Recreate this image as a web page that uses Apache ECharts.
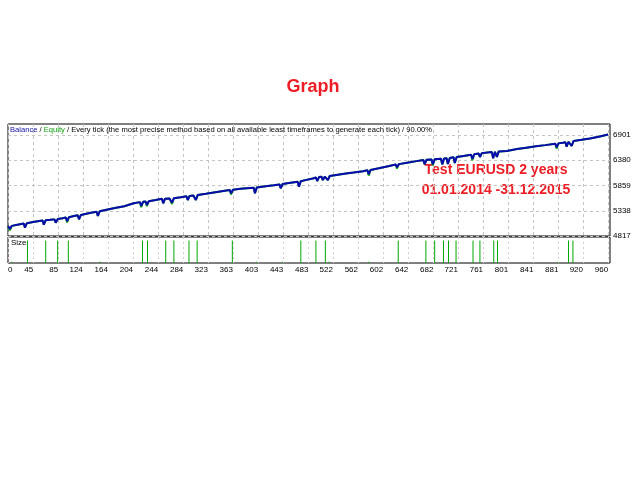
<!DOCTYPE html>
<html><head><meta charset="utf-8">
<script src="https://cdn.jsdelivr.net/npm/echarts@6/dist/echarts.min.js"></script>
<style>html,body{margin:0;padding:0;background:#fff}#c{width:640px;height:480px}</style>
</head><body><div id="c"></div>
<script>
// ---- data ----
const xTickLabels = [0,45,85,124,164,204,244,284,323,363,403,443,483,522,562,602,642,682,721,761,801,841,881,920,960];
const yTickLabels = [4817,5338,5859,6380,6901];
const xMin = 5, xMax = 963;
const yMin = 4817, yMax = 7128;

// balance curve: [trade #, balance]
const balance = [
[5,5023],[6,5025],[8,4961],[11,5026],
[20,5050],[30,5075],[32,4988],[35,5082],
[45,5105],[60,5138],[62,5050],[65,5144],
[72,5150],[79,5160],[81,5091],[84,5166],
[92,5185],[97,5200],[99,5120],[102,5206],
[110,5228],[116,5243],[118,5162],[121,5252],
[135,5290],[146,5316],[148,5230],[151,5326],
[160,5355],[175,5395],[190,5430],[205,5492],[215,5516],[217,5436],[220,5522],[224,5528],[226,5457],[229,5534],
[240,5560],[250,5585],[252,5492],[255,5588],
[262,5592],[264,5594],[266,5504],[269,5597],
[280,5615],[289,5638],[291,5560],[294,5645],
[300,5652],[302,5656],[304,5560],[307,5665],
[320,5690],[335,5720],[350,5750],[358,5764],[360,5698],[363,5772],
[375,5790],[385,5802],[396,5814],[398,5698],[401,5820],
[415,5845],[428,5866],[437,5882],[439,5801],[442,5890],
[452,5910],[466,5938],[468,5834],[471,5948],
[480,5975],[490,6005],[495,6024],[497,5952],[500,6032],[504,6038],[506,5972],[509,6042],[512,6046],[514,5972],[517,6055],
[525,6072],[540,6100],[555,6125],[570,6155],[577,6172],[579,6090],[582,6181],
[595,6215],[610,6258],[622,6292],[624,6234],[627,6300],
[640,6330],[655,6362],[666,6386],[668,6296],[671,6390],[679,6396],[681,6296],[684,6402],[694,6412],[696,6296],[699,6416],[703,6420],[705,6302],[708,6426],[714,6441],[716,6323],[719,6447],
[730,6470],[742,6494],[744,6406],[747,6503],[754,6518],[756,6447],[759,6527],
[768,6540],[775,6548],[777,6420],[780,6555],[781,6557],[783,6447],[786,6562],
[799,6571],[815,6610],[830,6640],[845,6668],[860,6692],[876,6720],[878,6647],[881,6728],
[888,6742],[892,6752],[894,6659],[897,6762],[900,6768],[902,6674],[905,6779],
[918,6803],[931,6828],[945,6865],[960,6911]
];
// equity lows that fall below the balance at some drawdowns: [trade #, equity]
const equityLows = [[8,4935],[99,5095],[217,5410],[226,5432],[266,5478],[360,5672],[579,6064],[624,6208],[681,6270],[744,6380],[878,6621]];
// position sizes: [trade #, lots]
const sizeBars = [
[11,0.01],[36,0.2],[65,0.2],[84,0.2],[101,0.2],[151,0.01],[219,0.2],[227,0.2],[256,0.2],[269,0.2],[293,0.2],[306,0.2],[362,0.2],
[401,0.01],[442,0.01],[471,0.2],[495,0.2],[510,0.2],[516,0.01],[579,0.01],[626,0.2],[670,0.2],[684,0.2],[698,0.2],[706,0.2],[718,0.2],
[745,0.2],[756,0.2],[778,0.2],[784,0.2],[880,0.01],[897,0.2],[904,0.2]
];
const headerText = 'Every tick (the most precise method based on all available least timeframes to generate each tick) / 90.00%';

// ---- build ----
const lowMap = new Map(equityLows.map(d => [d[0], d[1]]));
const equity = balance.map(d => [d[0], lowMap.has(d[0]) ? lowMap.get(d[0]) : d[1]]);
const xLabelPos = xTickLabels.map(v => Math.max(v, xMin));
const FONT = 'Liberation Sans, Arial, sans-serif';
const grid = '#c4c4c4';
const FS = 8;

const chart = echarts.init(document.getElementById('c'), null, {renderer: 'canvas'});
chart.setOption({
  animation: false,
  backgroundColor: '#fff',
  title: [{
    left: 10, top: 126, padding: 0,
    text: '{b|Balance} / {e|Equity} / ' + headerText,
    textStyle: {fontFamily: FONT, fontSize: 7.6, fontWeight: 'normal', color: '#000',
      rich: {b: {color: '#1010a0', fontSize: 7.6, fontFamily: FONT}, e: {color: '#10a010', fontSize: 7.6, fontFamily: FONT}}}
  }, {
    left: 11, top: 239, padding: 0, text: 'Size',
    textStyle: {fontFamily: FONT, fontSize: FS, fontWeight: 'normal', color: '#000'}
  }],
  graphic: [
    {type: 'text', x: 313, y: 87, style: {text: 'Graph', font: 'bold 18px ' + FONT, fill: '#ee1c24', align: 'center', verticalAlign: 'middle'}},
    {type: 'text', x: 496, y: 170, style: {text: 'Test EURUSD 2 years', font: 'bold 14px ' + FONT, fill: '#ee1c24', align: 'center', verticalAlign: 'middle'}},
    {type: 'text', x: 496, y: 190, style: {text: '01.01.2014 -31.12.2015', font: 'bold 14px ' + FONT, fill: '#ee1c24', align: 'center', verticalAlign: 'middle'}}
  ],
  grid: [
    {left: 8, right: 30, top: 124, height: 112, show: true, borderColor: '#000', borderWidth: 1, backgroundColor: '#fff'},
    {left: 8, right: 30, top: 237, height: 26, show: true, borderColor: '#000', borderWidth: 1, backgroundColor: '#fff'}
  ],
  xAxis: [
    {gridIndex: 0, type: 'value', min: xMin, max: xMax,
      axisLine: {show: false}, axisTick: {show: false, customValues: xLabelPos}, axisLabel: {show: false, customValues: xLabelPos},
      splitLine: {show: true, lineStyle: {color: grid, type: [3, 3], width: 1}}},
    {gridIndex: 1, type: 'value', min: xMin, max: xMax,
      axisLine: {show: false}, axisTick: {show: false, customValues: xLabelPos},
      axisLabel: {show: true, customValues: xLabelPos, margin: 3, fontSize: FS, fontFamily: FONT, color: '#000', align: 'right', alignMinLabel: 'left',
        formatter: v => String(xTickLabels[xLabelPos.indexOf(v)])},
      splitLine: {show: true, lineStyle: {color: '#d8c8d8', type: [2, 3], width: 1}}}
  ],
  yAxis: [
    {gridIndex: 0, type: 'value', position: 'right', min: yMin, max: yMax,
      axisLine: {show: false}, axisTick: {show: false, customValues: yTickLabels},
      axisLabel: {show: true, customValues: yTickLabels, margin: 3, fontSize: FS, fontFamily: FONT, color: '#000', formatter: v => String(v)},
      splitLine: {show: true, lineStyle: {color: grid, type: [3, 3], width: 1}}},
    {gridIndex: 1, type: 'value', min: 0, max: 0.23, show: false, splitLine: {show: false}}
  ],
  series: [
    {type: 'line', name: 'Equity', xAxisIndex: 0, yAxisIndex: 0, data: equity, showSymbol: false, symbol: 'none',
      lineStyle: {color: '#10b010', width: 2}, z: 2},
    {type: 'line', name: 'Balance', xAxisIndex: 0, yAxisIndex: 0, data: balance, showSymbol: false, symbol: 'none',
      lineStyle: {color: '#0a0ab0', width: 2}, z: 3},
    {type: 'bar', name: 'Size', xAxisIndex: 1, yAxisIndex: 1, data: sizeBars, barWidth: 1, itemStyle: {color: '#00a800'}, z: 2}
  ]
});
</script></body></html>
